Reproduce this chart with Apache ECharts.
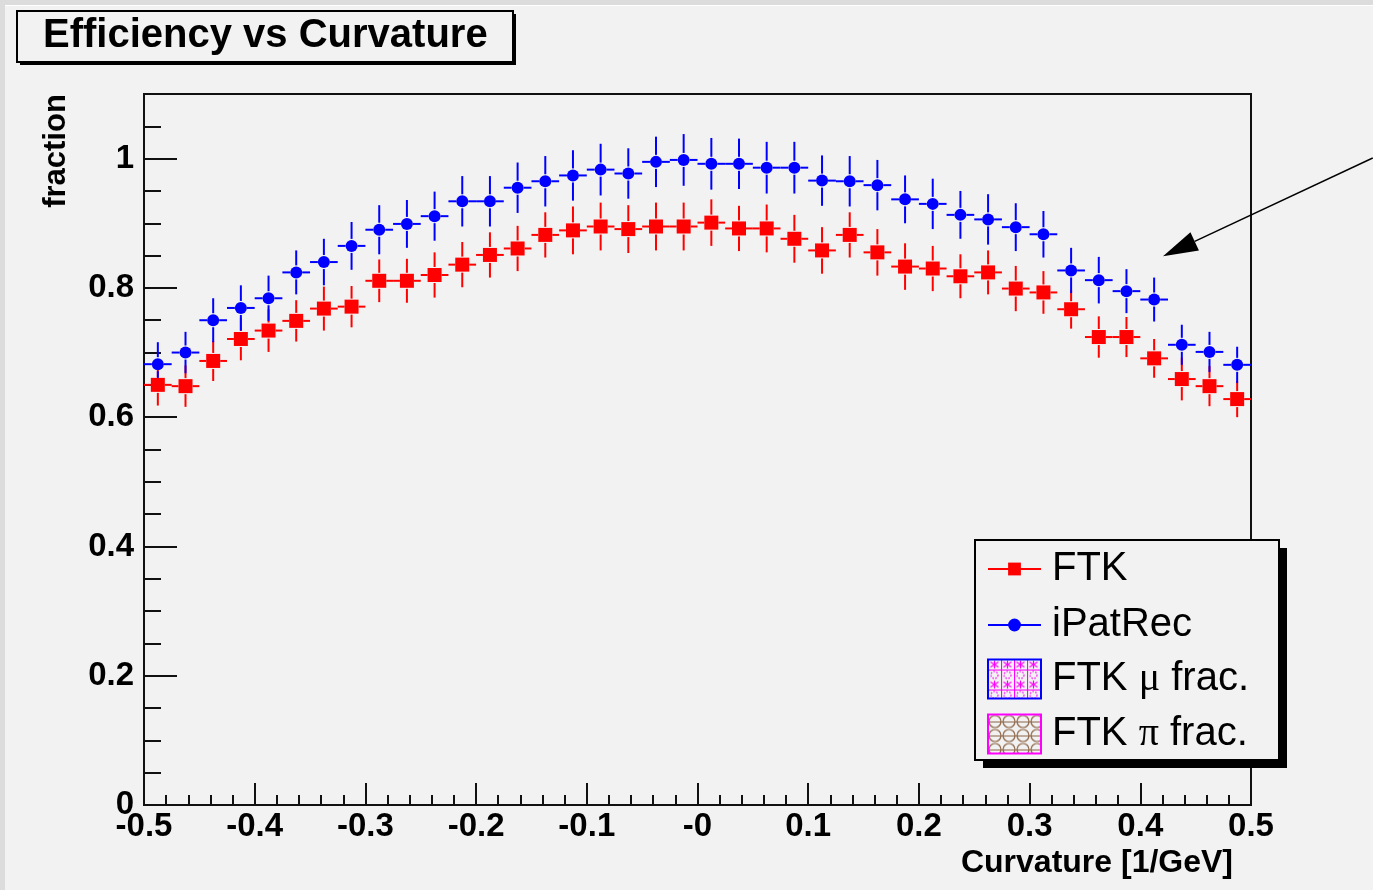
<!DOCTYPE html>
<html>
<head>
  <meta charset="UTF-8">
  <title>Efficiency vs Curvature</title>
  <script src="https://cdn.jsdelivr.net/npm/echarts@6/dist/echarts.min.js"></script>
  <style type="text/css">
  html, body { margin: 0; padding: 0; background: #dcdcdc; overflow: hidden; }
  #bg { position: absolute; left: 5px; top: 5px; right: 0; bottom: 0; background: #f2f2f2; border-top: 1px solid #ffffff; }
  #chart { position: absolute; left: 0; top: 0; width: 1373px; height: 890px; }
  </style>
</head>
<body>
  <div id="bg"></div>
  <div id="chart"></div>

  <script>
    // bin centres, curvature [1/GeV]
    var binCenters = [-0.4875, -0.4625, -0.4375, -0.4125, -0.3875, -0.3625, -0.3375, -0.3125, -0.2875, -0.2625,
                      -0.2375, -0.2125, -0.1875, -0.1625, -0.1375, -0.1125, -0.0875, -0.0625, -0.0375, -0.0125,
                      0.0125, 0.0375, 0.0625, 0.0875, 0.1125, 0.1375, 0.1625, 0.1875, 0.2125, 0.2375,
                      0.2625, 0.2875, 0.3125, 0.3375, 0.3625, 0.3875, 0.4125, 0.4375, 0.4625, 0.4875];
    var binWidth = 0.025;

    var ftkEff = [0.650, 0.648, 0.687, 0.721, 0.734, 0.749, 0.768, 0.771, 0.811, 0.811,
                  0.820, 0.836, 0.851, 0.861, 0.882, 0.889, 0.895, 0.891, 0.895, 0.895,
                  0.901, 0.892, 0.892, 0.876, 0.858, 0.882, 0.855, 0.833, 0.830, 0.818,
                  0.824, 0.799, 0.793, 0.767, 0.724, 0.724, 0.691, 0.659, 0.648, 0.628];
    var ftkErr = [0.032, 0.032, 0.031, 0.033, 0.033, 0.032, 0.034, 0.032, 0.033, 0.034,
                  0.035, 0.035, 0.035, 0.035, 0.035, 0.037, 0.037, 0.037, 0.037, 0.037,
                  0.036, 0.035, 0.037, 0.037, 0.036, 0.035, 0.036, 0.036, 0.035, 0.034,
                  0.034, 0.035, 0.033, 0.030, 0.032, 0.031, 0.030, 0.033, 0.031, 0.028];

    var ipatEff = [0.682, 0.700, 0.750, 0.769, 0.784, 0.824, 0.840, 0.865, 0.890, 0.899,
                   0.911, 0.934, 0.934, 0.955, 0.965, 0.974, 0.983, 0.977, 0.995, 0.998,
                   0.992, 0.992, 0.986, 0.986, 0.966, 0.965, 0.959, 0.937, 0.930, 0.913,
                   0.906, 0.894, 0.883, 0.827, 0.812, 0.795, 0.782, 0.712, 0.701, 0.681];
    var ipatErr = [0.034, 0.032, 0.034, 0.035, 0.035, 0.034, 0.036, 0.037, 0.038, 0.037,
                   0.038, 0.039, 0.039, 0.039, 0.039, 0.039, 0.040, 0.039, 0.039, 0.040,
                   0.040, 0.039, 0.040, 0.040, 0.039, 0.039, 0.039, 0.037, 0.039, 0.037,
                   0.039, 0.037, 0.036, 0.035, 0.036, 0.034, 0.034, 0.031, 0.031, 0.028];

    var xTicks = [-0.5, 0.5, 0.1];   // min, max, step
    var yTicks = [0, 1.1, 0.2, 0.05]; // min, max, major, minor

    // annotation arrow, data coordinates (tail starts outside the frame)
    var arrowFrom = [0.610, 1.001];
    var arrowTo = [0.4205, 0.849];

    var chart = echarts.init(document.getElementById('chart'), null, {renderer: 'canvas'});

    function rows(eff, err) {
      var out = [];
      for (var i = 0; i < binCenters.length; i++) out.push([binCenters[i], eff[i], err[i]]);
      return out;
    }

    function errorBars(color, markerHalf) {
      return function (params, api) {
        var x = api.value(0), y = api.value(1), e = api.value(2);
        var c = api.coord([x, y]);
        var l = api.coord([x - binWidth / 2, y]);
        var r = api.coord([x + binWidth / 2, y]);
        var t = api.coord([x, y + e]);
        var b = api.coord([x, y - e]);
        var st = {stroke: color, lineWidth: 2};
        var segs = [];
        if (c[0] - markerHalf > l[0]) segs.push([l[0], c[1], c[0] - markerHalf, c[1]]);
        if (r[0] > c[0] + markerHalf) segs.push([c[0] + markerHalf, c[1], r[0], c[1]]);
        segs.push([c[0], t[1], c[0], c[1] - markerHalf - 1]);
        segs.push([c[0], c[1] + markerHalf + 1, c[0], b[1]]);
        return {
          type: 'group',
          children: segs.map(function (s) {
            return {type: 'line', shape: {x1: s[0], y1: s[1], x2: s[2], y2: s[3]}, style: st};
          })
        };
      };
    }

    function muPattern() {
      var cv = document.createElement('canvas');
      cv.width = 13; cv.height = 20;
      var g = cv.getContext('2d');
      g.strokeStyle = '#ff00ff';
      g.lineWidth = 1.2;
      g.beginPath();
      // asterisk
      g.moveTo(6.5, 1); g.lineTo(6.5, 9);
      g.moveTo(2.5, 2.5); g.lineTo(10.5, 7.5);
      g.moveTo(2.5, 7.5); g.lineTo(10.5, 2.5);
      g.moveTo(0.5, 0); g.lineTo(0.5, 20);
      g.moveTo(0, 10.5); g.lineTo(13, 10.5);
      g.stroke();
      g.setLineDash([1.5, 1.5]);
      g.beginPath();
      g.arc(6.5, 15.5, 3.5, 0, Math.PI * 2);
      g.stroke();
      return {image: cv, repeat: 'repeat'};
    }

    function piPattern() {
      var cv = document.createElement('canvas');
      cv.width = 14; cv.height = 14;
      var g = cv.getContext('2d');
      g.strokeStyle = '#8c6446';
      g.lineWidth = 1.2;
      g.beginPath();
      g.arc(7, 7, 6, 0, Math.PI * 2);
      g.moveTo(0, 7.5); g.lineTo(14, 7.5);
      g.stroke();
      return {image: cv, repeat: 'repeat'};
    }

    var muFill = muPattern();
    var piFill = piPattern();

    var font = 'Liberation Sans';
    var labelFont = {fontFamily: font, fontWeight: 'bold', fontSize: 33, color: '#000'};

    var legendText = {
      fontFamily: font, fontSize: 40, color: '#000', lineHeight: 44, padding: [0, 0, 0, 6],
      rich: {g: {fontFamily: 'Liberation Serif', fontSize: 40, lineHeight: 44}}
    };
    function greek(name) {
      return name.replace('μ', '{g|μ}').replace('π', '{g|π}');
    }

    var option = {
      animation: false,
      title: {
        text: 'Efficiency vs Curvature',
        left: 17, top: 11,
        padding: [5, 26, 6, 26],
        backgroundColor: '#f2f2f2',
        borderColor: '#000', borderWidth: 2,
        textStyle: {fontFamily: font, fontWeight: 'bold', fontSize: 40, color: '#000'}
      },
      legend: [{
        orient: 'vertical', left: 987, top: 547, padding: 0,
        itemWidth: 53, itemHeight: 16, itemGap: 12,
        selectedMode: false,
        lineStyle: {width: 2, opacity: 1},
        textStyle: legendText,
        data: ['FTK', 'iPatRec']
      }, {
        orient: 'vertical', left: 987, top: 657, padding: 0,
        itemWidth: 53, itemHeight: 39, itemGap: 11,
        selectedMode: false,
        formatter: greek,
        textStyle: legendText,
        data: [
          {name: 'FTK μ frac.', icon: 'rect', itemStyle: {color: muFill, borderColor: '#0000ff', borderWidth: 2}},
          {name: 'FTK π frac.', icon: 'rect', itemStyle: {color: piFill, borderColor: '#ff00ff', borderWidth: 2}}
        ]
      }],
      grid: {
        left: 144, right: 122, top: 94, bottom: 85,
        show: true, borderColor: '#111', borderWidth: 2,
        backgroundColor: 'transparent'
      },
      xAxis: {
        type: 'value', min: xTicks[0], max: xTicks[1], interval: xTicks[2],
        name: 'Curvature [1/GeV]', nameLocation: 'end', nameGap: -18,
        nameTextStyle: {fontFamily: font, fontWeight: 'bold', fontSize: 32, color: '#000',
                        align: 'right', verticalAlign: 'top', padding: [42, 0, 0, 0]},
        axisLine: {onZero: false, lineStyle: {color: '#111', width: 2}},
        axisTick: {inside: true, length: 22, lineStyle: {color: '#111', width: 2}},
        minorTick: {show: true, splitNumber: 5, length: 10, lineStyle: {color: '#111', width: 2}},
        splitLine: {show: false},
        axisLabel: Object.assign({margin: 5, formatter: function (v) {
          var r = Math.round(v * 10) / 10;
          return r === 0 ? '-0' : String(r);
        }}, labelFont)
      },
      yAxis: [{
        type: 'value', min: yTicks[0], max: yTicks[1], interval: yTicks[2], position: 'left',
        axisLine: {onZero: false, lineStyle: {color: '#111', width: 2}},
        axisTick: {inside: true, length: 33, lineStyle: {color: '#111', width: 2}},
        splitLine: {show: false},
        axisLabel: Object.assign({margin: 10, formatter: function (v) {
          var r = Math.round(v * 100) / 100;
          if (Math.abs(r * 5 - Math.round(r * 5)) > 1e-6 || r > 1.05) return '';
          return String(r);
        }}, labelFont)
      }, {
        type: 'value', min: yTicks[0], max: yTicks[1], interval: yTicks[3], position: 'left', offset: 0,
        axisLine: {show: false, onZero: false},
        axisTick: {inside: true, length: 17, lineStyle: {color: '#111', width: 2}},
        axisLabel: {show: false},
        splitLine: {show: false}
      }],
      series: [{
        name: 'FTK err', type: 'custom', z: 2,
        renderItem: errorBars('#ff0000', 7),
        data: rows(ftkEff, ftkErr)
      }, {
        name: 'iPatRec err', type: 'custom', z: 2,
        renderItem: errorBars('#0000ff', 6),
        data: rows(ipatEff, ipatErr)
      }, {
        name: 'FTK', type: 'line', z: 3,
        symbol: 'rect', symbolSize: 14,
        itemStyle: {color: '#ff0000'},
        lineStyle: {color: '#ff0000', opacity: 0},
        data: rows(ftkEff, ftkErr).map(function (d) { return [d[0], d[1]]; })
      }, {
        name: 'iPatRec', type: 'line', z: 3,
        symbol: 'circle', symbolSize: 12,
        itemStyle: {color: '#0000ff'},
        lineStyle: {color: '#0000ff', opacity: 0},
        data: rows(ipatEff, ipatErr).map(function (d) { return [d[0], d[1]]; })
      }, {
        name: 'FTK μ frac.', type: 'bar', data: [],
        itemStyle: {color: muFill, borderColor: '#0000ff', borderWidth: 2}
      }, {
        name: 'FTK π frac.', type: 'bar', data: [],
        itemStyle: {color: piFill, borderColor: '#ff00ff', borderWidth: 2}
      }]
    };

    chart.setOption(option);

    // arrow and decorations, placed once the scales are known
    var p0 = chart.convertToPixel({gridIndex: 0}, arrowFrom);
    var p1 = chart.convertToPixel({gridIndex: 0}, arrowTo);
    var dx = p0[0] - p1[0], dy = p0[1] - p1[1];
    var len = Math.sqrt(dx * dx + dy * dy);
    var ux = dx / len, uy = dy / len;
    var headL = 35, headW = 10;
    var bx = p1[0] + ux * headL, by = p1[1] + uy * headL;

    chart.setOption({
      graphic: [{
        id: 'titleShadow', type: 'rect', z: 0,
        shape: {x: 20, y: 14, width: 496, height: 51},
        style: {fill: '#000'}
      }, {
        id: 'legendShadow', type: 'rect', z: 3,
        shape: {x: 983, y: 548, width: 304, height: 220},
        style: {fill: '#000'}
      }, {
        id: 'legendBox', type: 'rect', z: 3,
        shape: {x: 975, y: 540, width: 304, height: 220},
        style: {fill: '#f2f2f2', stroke: '#000', lineWidth: 2}
      }, {
        id: 'yName', type: 'text', x: 56, y: 151, rotation: Math.PI / 2,
        style: {text: 'fraction', font: 'bold 31px "Liberation Sans"', fill: '#000',
                textAlign: 'center', textVerticalAlign: 'middle'}
      }, {
        id: 'arrowLine', type: 'line', z: 5,
        shape: {x1: p0[0], y1: p0[1], x2: bx, y2: by},
        style: {stroke: '#000', lineWidth: 1.5}
      }, {
        id: 'arrowHead', type: 'polygon', z: 5,
        shape: {points: [[p1[0], p1[1]], [bx - uy * headW, by + ux * headW], [bx + uy * headW, by - ux * headW]]},
        style: {fill: '#000'}
      }]
    });
  </script>
</body>
</html>
